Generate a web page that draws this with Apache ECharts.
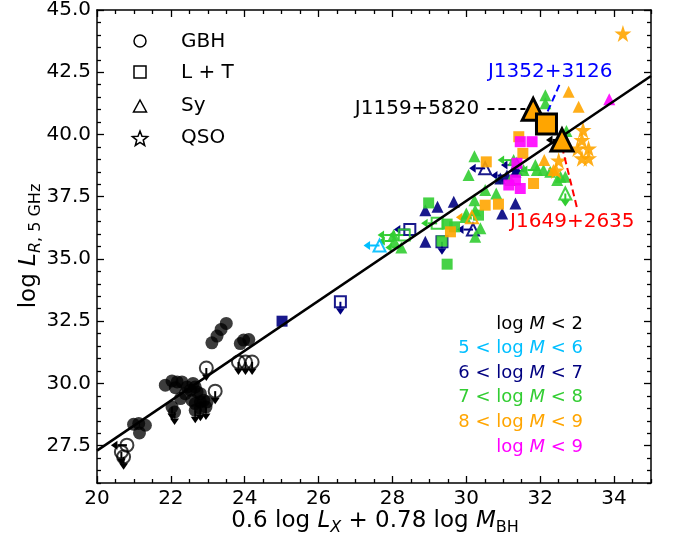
<!DOCTYPE html>
<html>
<head>
<meta charset="utf-8">
<script src="https://cdn.jsdelivr.net/npm/echarts@6/dist/echarts.min.js"></script>
<style>
  html, body { margin: 0; padding: 0; background: #fff; }
  #chart { width: 678px; height: 544px; }
</style>
</head>
<body>
<div id="chart"></div>
<script>
// point lists: [x, y, limit]; limit 'd' = down arrow, 'l' = left arrow
// lower case -> hollow marker, upper case -> filled marker with arrow
var gbhBlack = [
    [23.50, 32.41], [23.36, 32.17], [23.25, 31.90], [23.11, 31.63],
    [23.97, 31.74], [24.11, 31.76], [23.88, 31.60],
    [21.85, 29.93], [22.03, 30.10], [22.17, 30.06], [22.30, 30.06], [22.12, 29.83], [22.26, 29.39],
    [22.44, 29.86], [22.53, 29.73], [22.66, 29.86], [22.71, 29.66], [22.80, 29.59], [22.57, 29.32],
    [22.66, 29.19], [22.80, 29.26], [22.89, 29.32], [22.98, 29.26], [22.39, 29.59], [22.60, 30.00],
    [21.13, 28.39], [21.31, 28.32], [21.15, 28.01], [20.99, 28.36],
    [22.03, 29.05, 'D'], [22.10, 28.85, 'D'], [22.66, 28.92, 'D'], [22.80, 29.00, 'D'], [22.95, 29.05, 'D'],
    [23.83, 30.86, 'd'], [24.02, 30.86, 'd'], [24.20, 30.86, 'd'], [22.96, 30.62, 'd'], [23.20, 29.69, 'd'],
    [20.81, 27.52, 'l'], [20.66, 27.25, 'd'], [20.72, 27.05, 'd']
];
var ltNavy = [[25.01, 32.50], [26.59, 33.28, 'd'], [28.47, 36.18, 'l'], [29.34, 35.69, 'd']];
var syNavy = [
    [28.89, 35.69], [28.89, 36.96], [29.22, 37.10], [29.66, 37.30], [30.92, 38.23], [31.33, 38.50],
    [31.33, 37.23], [30.97, 36.83], [31.37, 38.57], [31.10, 38.35, 'L'],
    [30.18, 36.18, 'l'], [30.51, 38.64, 'l'], [31.37, 38.77, 'l']
];
var syCyan = [[27.65, 35.54, 'l']];
var ltGreen = [
    [28.98, 37.25], [29.48, 34.79], [29.68, 36.29], [29.48, 36.40], [30.33, 36.76], [29.34, 35.72],
    [28.32, 35.96, 'l'], [29.21, 36.43, 'l']
];
var syGreen = [
    [30.22, 39.13], [30.06, 38.37], [30.51, 37.77], [30.81, 37.63], [30.22, 37.36], [30.00, 36.83],
    [30.24, 35.89], [30.38, 36.23], [30.24, 36.96], [29.97, 36.69], [32.14, 41.58], [32.14, 41.25],
    [31.87, 38.77], [32.09, 38.57], [32.27, 38.50], [31.55, 38.57], [32.46, 38.17], [32.71, 40.14],
    [32.68, 38.30], [32.55, 38.30], [28.24, 35.46, 'L'], [28.05, 35.72, 'L'], [28.03, 35.96, 'L'],
    [31.28, 38.97, 'L'], [31.19, 38.17, 'L'], [31.91, 38.57, 'L'], [32.68, 37.63, 'd']
];
var ltOrange = [
    [30.54, 38.90], [30.51, 37.16], [30.87, 37.20], [31.42, 39.91], [31.53, 39.24], [31.82, 38.03], [29.57, 36.09]
];
var syOrange = [[32.77, 41.72], [33.04, 41.11], [32.11, 38.97], [32.36, 38.57], [30.15, 36.67, 'l']];
var qsoOrange = [
    [34.24, 44.06], [33.16, 40.18], [33.13, 39.78], [33.01, 39.44], [33.31, 39.44],
    [33.13, 39.04], [33.31, 39.04], [32.50, 38.95], [32.43, 38.55]
];
var ltMagenta = [[31.78, 39.71], [31.46, 39.71], [31.37, 38.84], [31.15, 37.97], [31.46, 37.83], [31.33, 38.17]];
var syMagenta = [[33.87, 41.41]];

// highlighted sources
var hiTri = [[31.81, 41.01], [32.59, 39.78, 'L']];
var hiSquare = [[32.17, 40.42]];

// fit line
var fitX = [20, 35];
var fitY = [27.30, 42.35];

// annotations
var annNames = ['J1159+5820', 'J1352+3126', 'J1649+2635'];
var annText = [[30.35, 41.02], [32.27, 42.51], [32.87, 36.48]];
var annLine = [
    [[30.57, 41.02], [31.60, 41.02]],
    [[32.52, 41.99], [32.18, 40.85]],
    [[32.59, 39.51], [33.00, 37.03]]
];
var annColors = ['#000000', '#0000ff', '#ff0000'];

var xMajor = [20, 22, 24, 26, 28, 30, 32, 34];
var yMajor = [27.5, 30.0, 32.5, 35.0, 37.5, 40.0, 42.5, 45.0];

var massLabels = ['{m|log }{i|M}{m| < 2}', '{m|5 < log }{i|M}{m| < 6}', '{m|6 < log }{i|M}{m| < 7}',
    '{m|7 < log }{i|M}{m| < 8}', '{m|8 < log }{i|M}{m| < 9}', '{m|log }{i|M}{m| < 9}'];
var massColors = ['#000000', '#00bfff', '#000080', '#32cd32', '#ffa500', '#ff00ff'];

var FONT = 'DejaVu Sans';
var C = { black: 'rgba(0,0,0,0.85)', cyan: '#00bfff', navy: '#000080', green: '#32cd32', orange: '#ffa500', magenta: '#ff00ff' };
var STAR = 'path://M50,0L61.2,34.5L97.6,34.5L68.2,55.9L79.4,90.5L50,69.1L20.6,90.5L31.8,55.9L2.4,34.5L38.8,34.5Z';
var SIZE = { circle: 13, rect: 11, triangle: 12, star: 17 };

function minorOf(lo, hi, major) {
    var out = [];
    for (var v = lo; v <= hi + 1e-9; v += 0.5) {
        if (major.indexOf(+v.toFixed(1)) < 0) out.push(+v.toFixed(1));
    }
    return out;
}
var xMinor = minorOf(20, 35, xMajor);
var yMinor = minorOf(26, 45, yMajor);

function isLower(s) { return s && s === s.toLowerCase(); }

function pointSeries(data, shape, color, size, edge) {
    return {
        type: 'scatter', z: 3, silent: true,
        symbol: shape === 'star' ? STAR : shape,
        symbolSize: size || SIZE[shape],
        itemStyle: { color: color, opacity: 0.9 },
        data: data.map(function (p) {
            if (isLower(p[2])) {
                return { value: [p[0], p[1]], itemStyle: { color: 'rgba(0,0,0,0)', borderColor: color, borderWidth: 2 } };
            }
            if (edge) return { value: [p[0], p[1]], itemStyle: { opacity: 1, borderColor: '#000', borderWidth: 3 } };
            return [p[0], p[1]];
        })
    };
}

function arrowSeries(data, color) {
    var arr = [];
    data.forEach(function (p) {
        var lim = (p[2] || '').toLowerCase();
        if (lim.indexOf('d') >= 0) arr.push([p[0], p[1], 0]);
        if (lim.indexOf('l') >= 0) arr.push([p[0], p[1], 1]);
    });
    return {
        type: 'custom', z: 2, silent: true, data: arr,
        renderItem: function (params, api) {
            var c = api.coord([api.value(0), api.value(1)]);
            var left = api.value(2) === 1;
            var dx = left ? -1 : 0, dy = left ? 0 : 1;
            var len = left ? 16 : 13, hl = 6.5, hw = 4.5;
            var tip = [c[0] + dx * len, c[1] + dy * len];
            var base = [tip[0] - dx * hl, tip[1] - dy * hl];
            return {
                type: 'group',
                children: [
                    { type: 'line', shape: { x1: c[0], y1: c[1], x2: base[0], y2: base[1] }, style: { stroke: color, lineWidth: 2 } },
                    { type: 'polygon', shape: { points: [tip, [base[0] - dy * hw, base[1] + dx * hw], [base[0] + dy * hw, base[1] - dx * hw]] }, style: { fill: color } }
                ]
            };
        }
    };
}

var groups = [
    [gbhBlack, 'circle', C.black, '#000'],
    [ltNavy, 'rect', C.navy, C.navy], [syNavy, 'triangle', C.navy, C.navy],
    [syCyan, 'triangle', C.cyan, C.cyan],
    [ltGreen, 'rect', C.green, C.green], [syGreen, 'triangle', C.green, C.green],
    [ltOrange, 'rect', C.orange, C.orange], [syOrange, 'triangle', C.orange, C.orange], [qsoOrange, 'star', C.orange, C.orange],
    [ltMagenta, 'rect', C.magenta, C.magenta], [syMagenta, 'triangle', C.magenta, C.magenta]
];

var series = [];
groups.forEach(function (g) {
    series.push(arrowSeries(g[0], g[3]));
    series.push(pointSeries(g[0], g[1], g[2]));
});
series.push(arrowSeries(hiTri, '#000'));
series.push({
    type: 'line', z: 4, silent: true, symbol: 'none',
    data: fitX.map(function (x, i) { return [x, fitY[i]]; }),
    lineStyle: { color: '#000', width: 2.5 }
});
var hiT = pointSeries(hiTri, 'triangle', C.orange, 22, true); hiT.z = 5;
var hiS = pointSeries(hiSquare, 'rect', C.orange, 20, true); hiS.z = 5;
series.push(hiT, hiS);

annNames.forEach(function (n, i) {
    series.push({
        type: 'line', z: 4, silent: true, symbol: 'none',
        data: annLine[i],
        lineStyle: { color: annColors[i], width: 2, type: [7, 4] }
    });
});
series.push({
    type: 'custom', z: 6, silent: true,
    data: annText.map(function (p, i) { return [p[0], p[1], i]; }),
    renderItem: function (params, api) {
        var i = api.value(2);
        var c = api.coord([api.value(0), api.value(1)]);
        return {
            type: 'text', x: c[0], y: c[1],
            style: {
                text: annNames[i], fill: annColors[i], fontSize: 20, fontFamily: FONT,
                align: i === 0 ? 'right' : 'center', verticalAlign: 'middle'
            }
        };
    }
});

var tickStyle = { color: '#000', width: 1.3 };
function xAx(pos, ticks, len, line, labels) {
    return {
        type: 'value', min: 20, max: 35, position: pos, gridIndex: 0,
        axisLine: { show: line, onZero: false, lineStyle: { color: '#000', width: 1.5 } },
        axisTick: { show: true, inside: true, length: len, customValues: ticks, lineStyle: tickStyle },
        axisLabel: labels ? { show: true, customValues: ticks, fontSize: 20, color: '#000', fontFamily: FONT, margin: 6 } : { show: false },
        splitLine: { show: false }
    };
}
function yAx(pos, ticks, len, line, labels) {
    return {
        type: 'value', min: 26, max: 45, position: pos, gridIndex: 0,
        axisLine: { show: line, onZero: false, lineStyle: { color: '#000', width: 1.5 } },
        axisTick: { show: true, inside: true, length: len, customValues: ticks, lineStyle: tickStyle },
        axisLabel: labels ? {
            show: true, customValues: ticks, fontSize: 20, color: '#000', fontFamily: FONT, margin: 6,
            formatter: function (v) { return v.toFixed(1); }
        } : { show: false },
        splitLine: { show: false }
    };
}

function starPoints(cx, cy, R, r) {
    var pts = [];
    for (var k = 0; k < 10; k++) {
        var a = -Math.PI / 2 + k * Math.PI / 5;
        var rr = k % 2 ? r : R;
        pts.push([cx + rr * Math.cos(a), cy + rr * Math.sin(a)]);
    }
    return pts;
}

var legendStroke = { fill: 'none', stroke: '#000', lineWidth: 1.5 };
var legendText = { fontSize: 20, fontFamily: FONT, fill: '#000', verticalAlign: 'middle' };
var subRich = {
    n: { fontSize: 23, fontFamily: FONT, lineHeight: 30, fill: '#000' },
    i: { fontSize: 23, fontFamily: FONT, fontStyle: 'italic', lineHeight: 30, fill: '#000' },
    s: { fontSize: 16, fontFamily: FONT, lineHeight: 14, verticalAlign: 'bottom', fill: '#000' },
    si: { fontSize: 16, fontFamily: FONT, fontStyle: 'italic', lineHeight: 14, verticalAlign: 'bottom', fill: '#000' }
};
var graphics = [
    { type: 'circle', shape: { cx: 140, cy: 41, r: 6 }, style: legendStroke },
    { type: 'rect', shape: { x: 134, y: 66, width: 12, height: 12 }, style: legendStroke },
    { type: 'polygon', shape: { points: [[140, 100], [133.5, 112], [146.5, 112]] }, style: legendStroke },
    { type: 'polygon', shape: { points: starPoints(140, 139, 8, 3.4) }, style: legendStroke },
    { type: 'text', x: 181, y: 42, style: Object.assign({ text: 'GBH' }, legendText) },
    { type: 'text', x: 181, y: 73, style: Object.assign({ text: 'L + T' }, legendText) },
    { type: 'text', x: 181, y: 106, style: Object.assign({ text: 'Sy' }, legendText) },
    { type: 'text', x: 181, y: 138, style: Object.assign({ text: 'QSO' }, legendText) },
    {
        type: 'text', x: 375, y: 521,
        style: { text: '{n|0.6 log }{i|L}{si|X}{n| + 0.78 log }{i|M}{s|BH}', align: 'center', verticalAlign: 'middle', rich: subRich }
    },
    {
        type: 'text', x: 29, y: 246, rotation: Math.PI / 2,
        style: { text: '{n|log }{i|L}{si|R}{s|, 5 GHz}', align: 'center', verticalAlign: 'middle', rich: subRich }
    }
];
massLabels.forEach(function (t, i) {
    graphics.push({
        type: 'text', x: 583, y: 324 + i * 24.6,
        style: {
            text: t, align: 'right', verticalAlign: 'middle',
            rich: {
                m: { fontSize: 18, fontFamily: FONT, fill: massColors[i] },
                i: { fontSize: 18, fontFamily: FONT, fontStyle: 'italic', fill: massColors[i] }
            }
        }
    });
});

var chart = echarts.init(document.getElementById('chart'));
chart.setOption({
    animation: false,
    backgroundColor: '#fff',
    grid: { left: 97, right: 27, top: 10, bottom: 61 },
    xAxis: [
        xAx('bottom', xMajor, 7, true, true), xAx('bottom', xMinor, 4, false, false),
        xAx('top', xMajor, 7, true, false), xAx('top', xMinor, 4, false, false)
    ],
    yAxis: [
        yAx('left', yMajor, 7, true, true), yAx('left', yMinor, 4, false, false),
        yAx('right', yMajor, 7, true, false), yAx('right', yMinor, 4, false, false)
    ],
    series: series,
    graphic: graphics
});
</script>
</body>
</html>
